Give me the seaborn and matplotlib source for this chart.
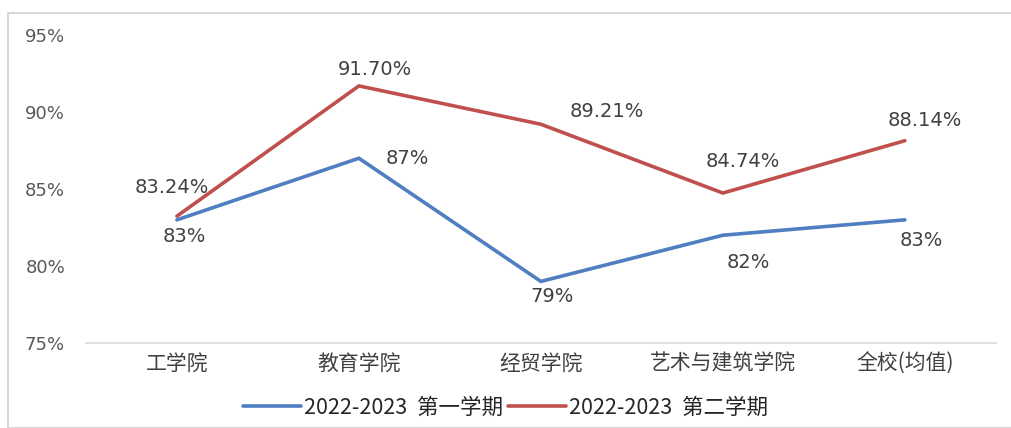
import matplotlib
matplotlib.use("Agg")
import matplotlib.pyplot as plt
import seaborn as sns
import pandas as pd
from matplotlib.patches import Rectangle

categories = ["工学院", "教育学院", "经贸学院", "艺术与建筑学院", "全校(均值)"]
series_names = ["2022-2023  第一学期", "2022-2023  第二学期"]
sem1 = [83, 87, 79, 82, 83]
sem2 = [83.24, 91.70, 89.21, 84.74, 88.14]
yticks = [75, 80, 85, 90, 95]

sns.set_theme(style="white")
plt.rcParams['font.family'] = ['DejaVu Sans', 'Noto Sans CJK SC']
cjk = ['Noto Sans CJK SC', 'DejaVu Sans']
num = ['DejaVu Sans']

df = pd.DataFrame({
    "学院": categories * 2,
    "idx": list(range(len(categories))) * 2,
    "rate": sem1 + sem2,
    "学期": [series_names[0]] * len(sem1) + [series_names[1]] * len(sem2),
})

colors = ["#4F7FC0", "#C0504D"]
fig = plt.figure(figsize=(10.11, 4.28), dpi=100)
ax = fig.add_axes([0.085, 0.1986, 0.9, 0.7194])
sns.lineplot(data=df, x="idx", y="rate", hue="学期", palette=colors,
             linewidth=2.6, sort=False, ax=ax, legend=True)

ax.set_xlim(-0.5, len(categories) - 0.5)
ax.set_ylim(75, 95)
ax.set_yticks(yticks)
ax.set_yticklabels([f"{t}%" for t in yticks], color="#595959", fontsize=13,
                   fontfamily=num)
ax.set_xticks(range(len(categories)))
ax.set_xticklabels(categories, fontfamily=cjk, fontsize=15, color="#404040")
ax.tick_params(axis='y', length=0, pad=15)
ax.tick_params(axis='x', length=0, pad=7)
ax.set_xlabel("")
ax.set_ylabel("")
for s in ["top", "right", "left"]:
    ax.spines[s].set_visible(False)
ax.spines["bottom"].set_color("#D9D9D9")
ax.spines["bottom"].set_linewidth(1.2)
ax.patch.set_alpha(0)

off1 = [(7, -17), (48, 0), (11, -15), (25, -27), (16, -21)]
off2 = [(-5, 29), (16, 16), (66, 13), (20, 32), (20, 20)]
for i, v in enumerate(sem1):
    ax.annotate(f"{v:.0f}%", (i, v), xytext=off1[i], textcoords="offset pixels",
                ha="center", va="center", fontsize=14, color="#404040",
                fontfamily=num)
for i, v in enumerate(sem2):
    ax.annotate(f"{v:.2f}%", (i, v), xytext=off2[i], textcoords="offset pixels",
                ha="center", va="center", fontsize=14, color="#404040",
                fontfamily=num)

handles, labels = ax.get_legend_handles_labels()
ax.legend(handles, labels, loc="center", bbox_to_anchor=(0.5, 0.047),
          bbox_transform=fig.transFigure, ncol=2, frameon=False,
          prop={'family': cjk, 'size': 15.5}, handlelength=2.7,
          columnspacing=0.2, handletextpad=0.15)

fig.patches.append(Rectangle((8 / 1011, 0), 1.2, 1 - 13 / 428, transform=fig.transFigure,
                             fill=False, edgecolor="#D0D0D0", linewidth=1.2))

fig.savefig("out.png", dpi=100)
